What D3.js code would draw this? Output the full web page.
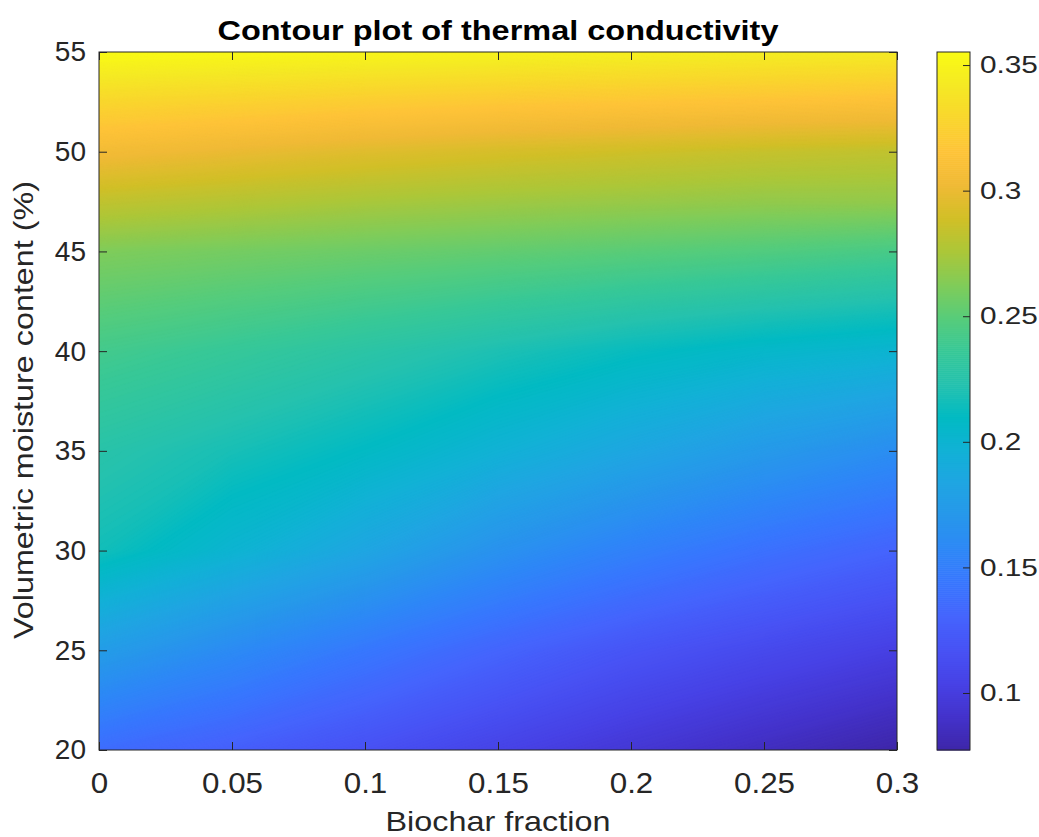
<!DOCTYPE html>
<html>
<head>
<meta charset="utf-8">
<script src="https://cdn.jsdelivr.net/npm/d3@7"></script>
<style>
  body { margin: 0; background: #fff; }
  text { font-family: Helvetica, Arial, "Liberation Sans", sans-serif; fill: #262626; }
</style>
</head>
<body>
<div id="chart"></div>
<script>
// grid the surface is sampled on
var xValues = [0, 0.05, 0.1, 0.15, 0.2, 0.25, 0.3];
var yValues = [20, 25, 30, 35, 40, 45, 47.5, 50, 52.5, 55];

// thermal conductivity, one row per moisture level
var row20   = [0.137, 0.127, 0.116, 0.105, 0.095, 0.086, 0.0773];
var row25   = [0.176, 0.160, 0.145, 0.131, 0.119, 0.110, 0.102];
var row30   = [0.216, 0.200, 0.184, 0.166, 0.152, 0.140, 0.130];
var row35   = [0.226, 0.218, 0.209, 0.197, 0.185, 0.173, 0.162];
var row40   = [0.241, 0.235, 0.228, 0.220, 0.212, 0.205, 0.200];
var row45   = [0.262, 0.259, 0.256, 0.253, 0.250, 0.247, 0.243];
var row47_5 = [0.283, 0.279, 0.275, 0.272, 0.270, 0.268, 0.268];
var row50   = [0.305, 0.300, 0.295, 0.291, 0.288, 0.285, 0.283];
var row52_5 = [0.329, 0.326, 0.322, 0.319, 0.317, 0.315, 0.313];
var row55   = [0.3552, 0.353, 0.351, 0.349, 0.347, 0.345, 0.343];
var rows = [row20, row25, row30, row35, row40, row45, row47_5, row50, row52_5, row55];

var xTicks = [0, 0.05, 0.1, 0.15, 0.2, 0.25, 0.3];
var yTicks = [20, 25, 30, 35, 40, 45, 50, 55];
var cTicks = [0.1, 0.15, 0.2, 0.25, 0.3, 0.35];

// parula colormap anchors
var parula = [
  [0.2422,0.1504,0.6603],[0.2647,0.1978,0.7952],[0.2783,0.2559,0.8991],[0.2810,0.3228,0.9579],
  [0.2699,0.3892,0.9906],[0.2206,0.4603,0.9973],[0.1786,0.5289,0.9682],[0.1540,0.5902,0.9218],
  [0.1248,0.6459,0.8883],[0.0689,0.6948,0.8394],[0.0067,0.7312,0.7660],[0.1408,0.7584,0.6842],
  [0.2161,0.7843,0.5923],[0.3406,0.8008,0.4789],[0.5044,0.7993,0.3480],[0.6720,0.7793,0.2227],
  [0.8203,0.7498,0.1535],[0.9393,0.7288,0.2100],[0.9970,0.7659,0.2199],[0.9786,0.8386,0.1766],
  [0.9597,0.9135,0.1423],[0.9769,0.9839,0.0805]
].map(c => d3.rgb(c[0]*255, c[1]*255, c[2]*255));
var parulaInterp = d3.piecewise(d3.interpolateRgb, parula);

var svgWidth = 1039, svgHeight = 837;
var plot = {left: 99, right: 897, top: 52, bottom: 750};
var cbar = {left: 937, right: 970};

var svg = d3.select("#chart").append("svg")
  .attr("width", svgWidth)
  .attr("height", svgHeight);

var x = d3.scaleLinear().domain([0, 0.3]).range([plot.left, plot.right]);
var y = d3.scaleLinear().domain([20, 55]).range([plot.bottom, plot.top]);

var grid = [].concat(...rows);
var ext = d3.extent(grid);
var color = d3.scaleSequential(parulaInterp).domain(ext);

// contour grid index -> data coordinates (values sit at i + 0.5)
var ix = d3.scaleLinear().domain(xValues.map((d, i) => i + 0.5)).range(xValues);
var iy = d3.scaleLinear().domain(yValues.map((d, j) => j + 0.5)).range(yValues);
var proj = d3.geoTransform({
  point: function(px, py) { this.stream.point(x(ix(px)), y(iy(py))); }
});
var path = d3.geoPath(proj);

var step = 0.0008;
var thresholds = d3.range(ext[0], ext[1], step);
var contours = d3.contours()
  .size([xValues.length, yValues.length])
  .thresholds(thresholds)(grid);

svg.append("clipPath").attr("id", "clip")
  .append("rect")
  .attr("x", plot.left).attr("y", plot.top)
  .attr("width", plot.right - plot.left).attr("height", plot.bottom - plot.top);

var field = svg.append("g").attr("clip-path", "url(#clip)");
field.selectAll("path")
  .data(contours)
  .enter().append("path")
  .attr("d", path)
  .attr("fill", d => color(Math.min(d.value + step / 2, ext[1])))
  .attr("stroke", d => color(Math.min(d.value + step / 2, ext[1])))
  .attr("stroke-width", 0.6);

// stretch text horizontally a bit like the original rendering
function widen(sel, k) {
  sel.each(function() {
    var w = this.getComputedTextLength();
    d3.select(this).attr("textLength", w * k).attr("lengthAdjust", "spacingAndGlyphs");
  });
}

// axes, ticks pointing inward, box all round
var xAxis = svg.append("g")
  .attr("transform", `translate(0,${plot.bottom})`)
  .call(d3.axisBottom(x).tickValues(xTicks).tickFormat(d3.format("")).tickSizeInner(-8).tickSizeOuter(0).tickPadding(22));
var yAxis = svg.append("g")
  .attr("transform", `translate(${plot.left},0)`)
  .call(d3.axisLeft(y).tickValues(yTicks).tickSizeInner(-8).tickSizeOuter(0).tickPadding(13));
svg.append("g")
  .attr("transform", `translate(0,${plot.top})`)
  .call(d3.axisTop(x).tickValues(xTicks).tickFormat("").tickSizeInner(-8).tickSizeOuter(0));
svg.append("g")
  .attr("transform", `translate(${plot.right},0)`)
  .call(d3.axisRight(y).tickValues(yTicks).tickFormat("").tickSizeInner(-8).tickSizeOuter(0));

svg.selectAll(".domain").remove();
svg.selectAll(".tick line").attr("stroke", "#262626");
svg.append("rect")
  .attr("x", plot.left).attr("y", plot.top)
  .attr("width", plot.right - plot.left).attr("height", plot.bottom - plot.top)
  .attr("fill", "none").attr("stroke", "#262626").attr("stroke-width", 1);

xAxis.selectAll("text").attr("font-size", "29px").style("fill", "#262626").call(widen, 1.08);
yAxis.selectAll("text").attr("font-size", "28px").style("fill", "#262626");

// colorbar
var cy = d3.scaleLinear().domain(ext).range([plot.bottom, plot.top]);
var cSteps = d3.range(ext[0], ext[1], step);
svg.append("g").selectAll("rect")
  .data(cSteps)
  .enter().append("rect")
  .attr("x", cbar.left)
  .attr("width", cbar.right - cbar.left)
  .attr("y", d => cy(Math.min(d + step, ext[1])))
  .attr("height", d => cy(d) - cy(Math.min(d + step, ext[1])) + 0.6)
  .attr("fill", d => color(d + step / 2));

var cAxis = svg.append("g")
  .attr("transform", `translate(${cbar.right},0)`)
  .call(d3.axisRight(cy).tickValues(cTicks).tickFormat(d3.format("")).tickSizeInner(-7).tickSizeOuter(0).tickPadding(10));
cAxis.select(".domain").remove();
cAxis.selectAll(".tick line").attr("stroke", "#262626");
cAxis.selectAll("text").attr("font-size", "24px").style("fill", "#262626").call(widen, 1.24);
svg.append("rect")
  .attr("x", cbar.left).attr("y", plot.top)
  .attr("width", cbar.right - cbar.left).attr("height", plot.bottom - plot.top)
  .attr("fill", "none").attr("stroke", "#262626").attr("stroke-width", 1);

// title and labels
var cx = (plot.left + plot.right) / 2;
svg.append("text")
  .attr("x", cx).attr("y", 40)
  .attr("text-anchor", "middle")
  .attr("font-size", "27px").attr("font-weight", "bold")
  .style("fill", "#000")
  .attr("textLength", 561).attr("lengthAdjust", "spacingAndGlyphs")
  .text("Contour plot of thermal conductivity");

svg.append("text")
  .attr("x", cx).attr("y", 831)
  .attr("text-anchor", "middle")
  .attr("font-size", "28px")
  .attr("textLength", 225).attr("lengthAdjust", "spacingAndGlyphs")
  .text("Biochar fraction");

svg.append("text")
  .attr("transform", "translate(33,410) rotate(-90)")
  .attr("text-anchor", "middle")
  .attr("font-size", "28px")
  .attr("textLength", 458).attr("lengthAdjust", "spacingAndGlyphs")
  .text("Volumetric moisture content (%)");
</script>
</body>
</html>
